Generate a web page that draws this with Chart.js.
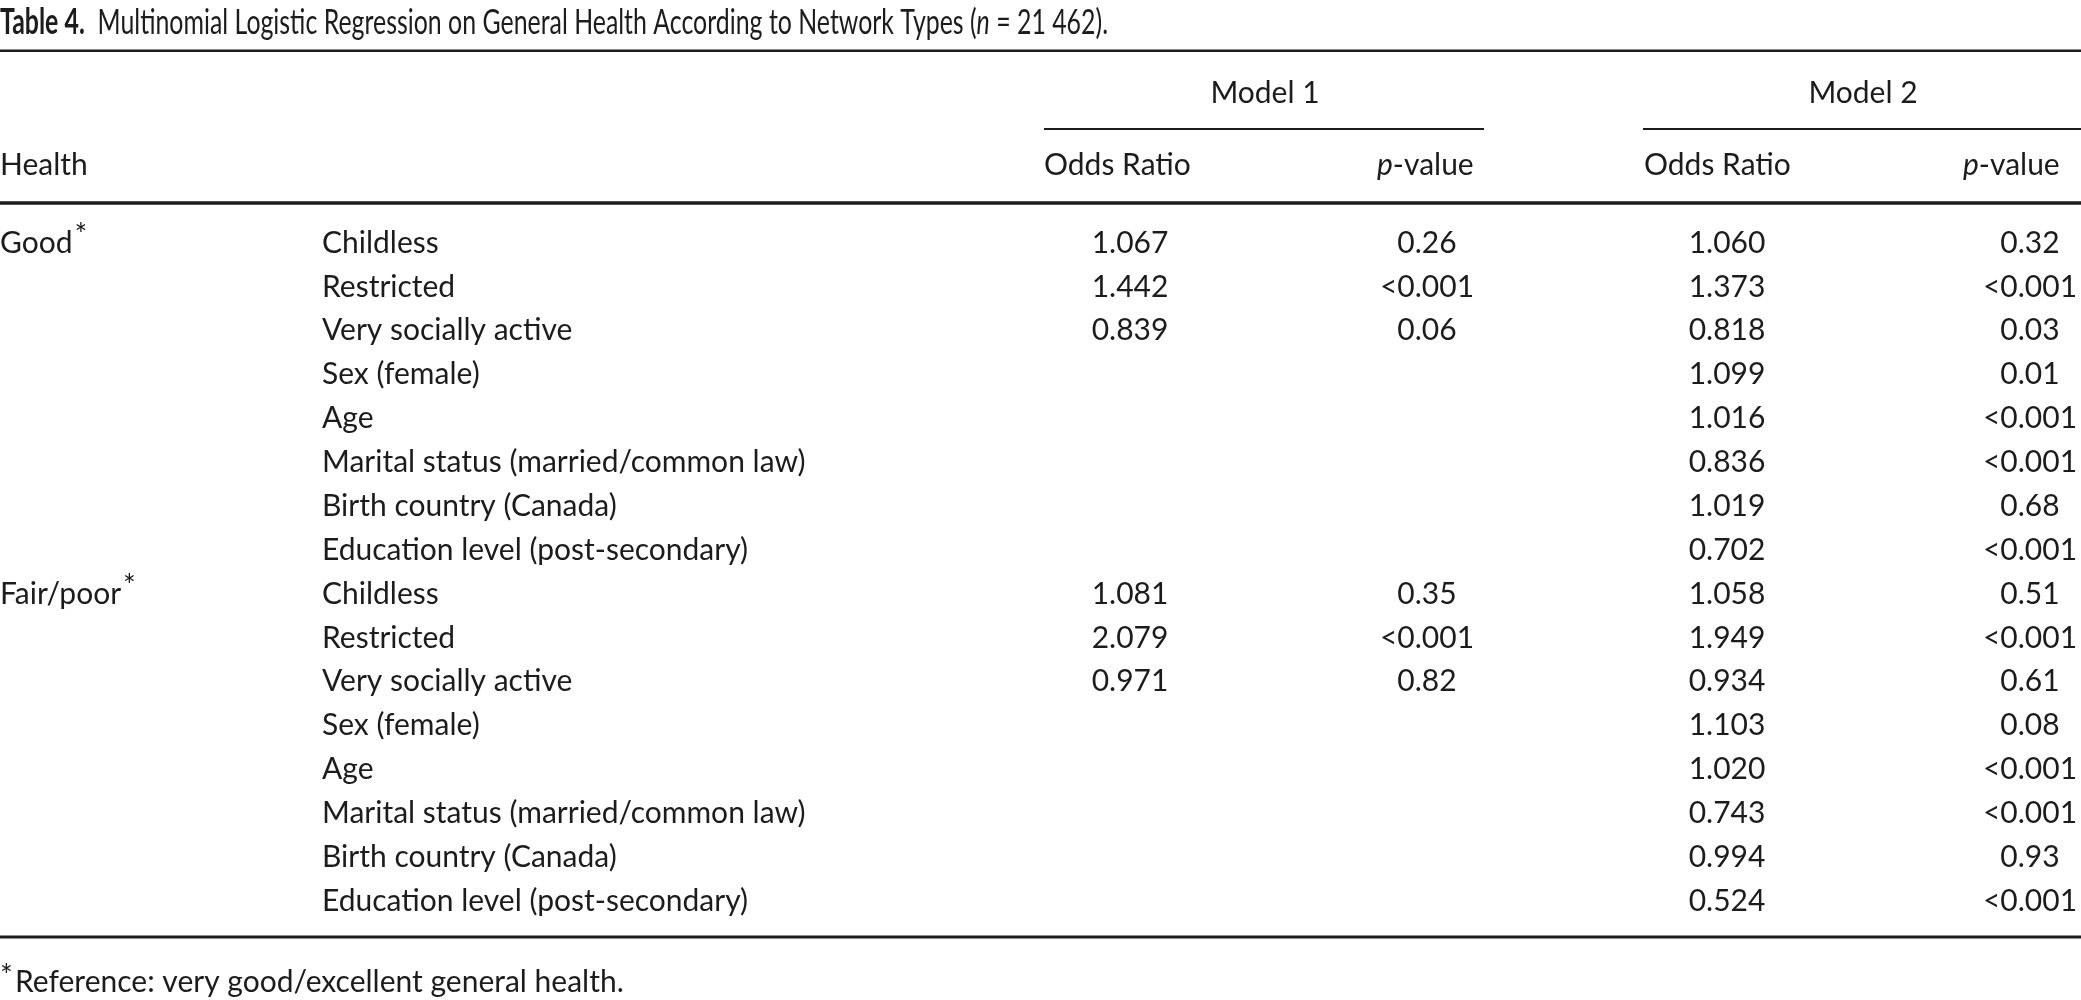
<!DOCTYPE html>
<html>
<head>
<meta charset="utf-8">
<script src="https://cdn.jsdelivr.net/npm/chart.js@4"></script>
<style>
  html, body { margin: 0; padding: 0; background: #fff; }
  #wrap { width: 2081px; height: 1000px; position: relative; }
</style>
</head>
<body>
<div id="wrap"><canvas id="tableChart"></canvas></div>
<script>
// Données du tableau
const groups = ["Good", "Fair/poor"];
const variables = [
  "Childless",
  "Restricted",
  "Very socially active",
  "Sex (female)",
  "Age",
  "Marital status (married/common law)",
  "Birth country (Canada)",
  "Education level (post-secondary)",
];
const goodModel1Odds = [1.067, 1.442, 0.839, null, null, null, null, null];
const goodModel1P = ["0.26", "<0.001", "0.06", null, null, null, null, null];
const goodModel2Odds = [1.06, 1.373, 0.818, 1.099, 1.016, 0.836, 1.019, 0.702];
const goodModel2P = ["0.32", "<0.001", "0.03", "0.01", "<0.001", "<0.001", "0.68", "<0.001"];
const fairModel1Odds = [1.081, 2.079, 0.971, null, null, null, null, null];
const fairModel1P = ["0.35", "<0.001", "0.82", null, null, null, null, null];
const fairModel2Odds = [1.058, 1.949, 0.934, 1.103, 1.02, 0.743, 0.994, 0.524];
const fairModel2P = ["0.51", "<0.001", "0.61", "0.08", "<0.001", "<0.001", "0.93", "<0.001"];

// Mise en page (unités : x en pixels de la table, y en lignes)
const FONT = "Lato, 'DejaVu Sans', sans-serif";
const SIZE = 30;
const INK = "#1c1c1c";
const TITLE_WIDTH = 1108;
const colX = { group: 0, variable: 322, or1: 1130, p1: 1427, or2: 1727, p2: 2030 };
const rowY = { title: -5.02, topRule: -4.38, model: -3.42, subRule: -2.6, head: -1.76, headRule: -0.91, bottomRule: 15.82, note: 16.86 };
const ROW0 = 243;
const ROW_H = 43.87;

function formatOdds(v) {
  return v === null ? null : v.toFixed(3);
}

// Construire une série de cellules pour une colonne
function columnDataset(x, goodVals, fairVals) {
  const data = [];
  const labels = [];
  goodVals.concat(fairVals).forEach((v, i) => {
    if (v !== null) {
      data.push({ x: x, y: i });
      labels.push(v);
    }
  });
  return { data: data, cellLabels: labels, pointRadius: 0, pointHoverRadius: 0 };
}

const datasets = [
  columnDataset(colX.or1, goodModel1Odds.map(formatOdds), fairModel1Odds.map(formatOdds)),
  columnDataset(colX.p1, goodModel1P, fairModel1P),
  columnDataset(colX.or2, goodModel2Odds.map(formatOdds), fairModel2Odds.map(formatOdds)),
  columnDataset(colX.p2, goodModel2P, fairModel2P),
];

// Plugin qui dessine le texte et les filets du tableau
const tablePlugin = {
  id: "tablePlugin",
  afterDatasetsDraw(chart) {
    const ctx = chart.ctx;
    const xs = chart.scales.x;
    const ys = chart.scales.y;
    const px = (v) => xs.getPixelForValue(v);
    const py = (v) => ys.getPixelForValue(v);
    ctx.save();
    ctx.fillStyle = INK;
    ctx.strokeStyle = INK;
    ctx.textBaseline = "middle";

    function setFont(style) {
      ctx.font = (style || "") + " " + SIZE + "px " + FONT;
    }
    function text(str, x, y, align, style) {
      setFont(style);
      ctx.textAlign = align || "left";
      ctx.fillText(str, x, y);
      return ctx.measureText(str).width;
    }
    function rule(x0, x1, y, w) {
      ctx.lineWidth = w;
      ctx.beginPath();
      ctx.moveTo(x0, y);
      ctx.lineTo(x1, y);
      ctx.stroke();
    }
    function star(x, y) {
      ctx.font = "30px " + FONT;
      ctx.textAlign = "left";
      ctx.fillText("*", x, y);
    }

    // Titre (resserré horizontalement comme dans l'original)
    const titleParts = [
      ["Table 4.", "bold"],
      ["  Multinomial Logistic Regression on General Health According to Network Types (", ""],
      ["n", "italic"],
      [" = 21 462).", ""],
    ];
    let full = 0;
    titleParts.forEach((p) => {
      setFont(p[1]);
      full += ctx.measureText(p[0]).width;
    });
    const squeeze = (px(TITLE_WIDTH) - px(0)) / full;
    ctx.save();
    ctx.translate(px(0), py(rowY.title));
    ctx.scale(squeeze, 1.18);
    let tx = 0;
    titleParts.forEach((p) => {
      tx += text(p[0], tx, 0, "left", p[1]);
    });
    ctx.restore();

    // Filets
    rule(px(0), px(2081), py(rowY.topRule), 2.5);
    rule(px(1044), px(1484), py(rowY.subRule), 2);
    rule(px(1643), px(2081), py(rowY.subRule), 2);
    rule(px(0), px(2081), py(rowY.headRule), 3.5);
    rule(px(0), px(2081), py(rowY.bottomRule), 3);

    // En-têtes
    text("Model 1", px(1265), py(rowY.model), "center");
    text("Model 2", px(1863), py(rowY.model), "center");
    const hy = py(rowY.head);
    text("Health", px(colX.group), hy);
    text("Odds Ratio", px(1044), hy);
    text("Odds Ratio", px(1644), hy);
    [1377, 1963].forEach((x0) => {
      const w = text("p", px(x0), hy, "left", "italic");
      text("-value", px(x0) + w, hy);
    });

    // Groupes et variables
    groups.forEach((g, gi) => {
      const y = py(gi * variables.length);
      const w = text(g, px(colX.group), y);
      star(px(colX.group) + w + 2, y - 8);
      variables.forEach((v, vi) => {
        text(v, px(colX.variable), py(gi * variables.length + vi));
      });
    });

    // Cellules numériques
    chart.data.datasets.forEach((ds, di) => {
      const meta = chart.getDatasetMeta(di);
      meta.data.forEach((el, i) => {
        text(ds.cellLabels[i], el.x, el.y, "center");
      });
    });

    // Note
    const ny = py(rowY.note);
    star(px(0), ny - 6);
    text("Reference: very good/excellent general health.", px(15), ny);
    ctx.restore();
  },
};

new Chart(document.getElementById("tableChart"), {
  type: "scatter",
  data: { datasets: datasets },
  options: {
    responsive: true,
    maintainAspectRatio: false,
    animation: false,
    events: [],
    layout: { padding: 0 },
    plugins: { legend: { display: false }, tooltip: { enabled: false } },
    scales: {
      x: { type: "linear", min: 0, max: 2081, display: false },
      y: {
        type: "linear",
        reverse: true,
        min: -ROW0 / ROW_H,
        max: (1000 - ROW0) / ROW_H,
        display: false,
      },
    },
  },
  plugins: [tablePlugin],
});
</script>
</body>
</html>
